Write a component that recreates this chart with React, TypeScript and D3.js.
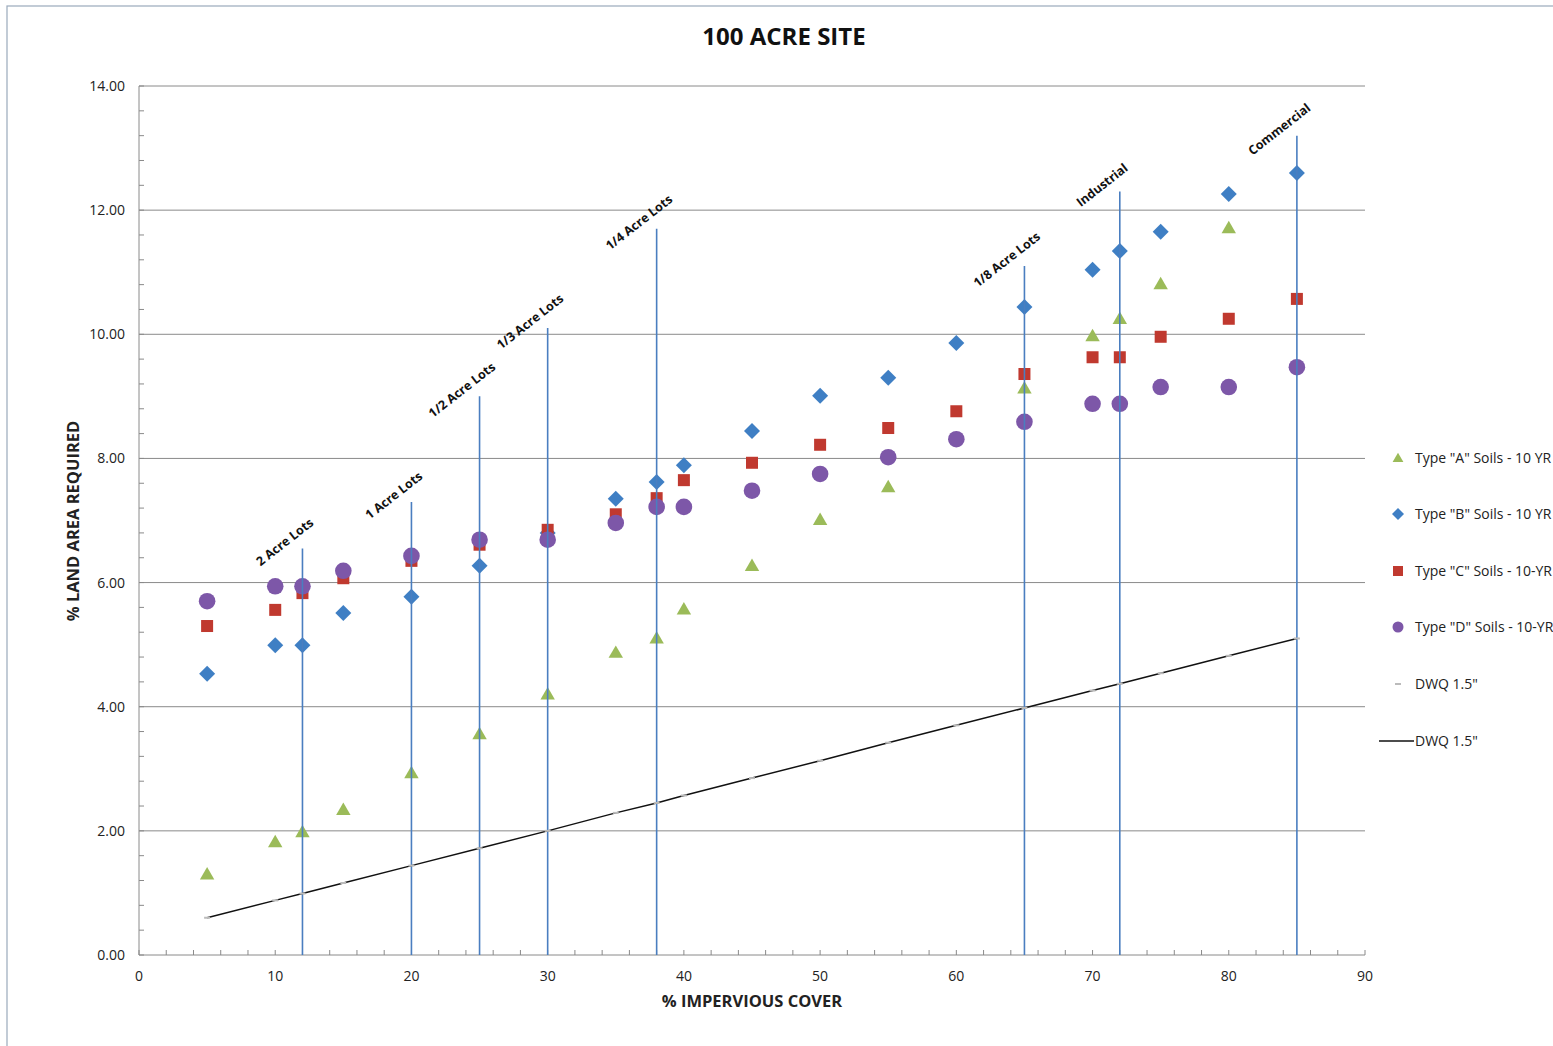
import React from "react";
import * as d3 from "d3";

const xValues = [5, 10, 12, 15, 20, 25, 30, 35, 38, 40, 45, 50, 55, 60, 65, 70, 72, 75, 80, 85];
const typeA: (number | null)[] = [1.30, 1.82, 1.98, 2.34, 2.93, 3.56, 4.20, 4.87, 5.10, 5.57, 6.27, 7.01, 7.54, null, 9.13, 9.97, 10.25, 10.81, 11.71, null];
const typeB = [4.53, 4.99, 4.99, 5.51, 5.77, 6.27, 6.80, 7.35, 7.62, 7.89, 8.44, 9.01, 9.30, 9.86, 10.44, 11.04, 11.34, 11.65, 12.26, 12.60];
const typeC = [5.30, 5.56, 5.83, 6.07, 6.35, 6.61, 6.85, 7.10, 7.36, 7.65, 7.93, 8.22, 8.49, 8.76, 9.36, 9.63, 9.63, 9.96, 10.25, 10.57];
const typeD = [5.70, 5.94, 5.94, 6.19, 6.43, 6.69, 6.69, 6.96, 7.22, 7.22, 7.48, 7.75, 8.02, 8.31, 8.59, 8.88, 8.88, 9.15, 9.15, 9.47];
const dwq = [0.60, 0.88, 0.99, 1.16, 1.44, 1.72, 2.00, 2.29, 2.45, 2.57, 2.85, 3.13, 3.42, 3.70, 3.98, 4.26, 4.37, 4.54, 4.82, 5.10];

const lotLabels = ["2 Acre Lots", "1 Acre Lots", "1/2 Acre Lots", "1/3 Acre Lots", "1/4 Acre Lots", "1/8 Acre Lots", "Industrial", "Commercial"];
const lotX = [12, 20, 25, 30, 38, 65, 72, 85];
const lotTop = [6.55, 7.3, 9.0, 10.1, 11.7, 11.1, 12.3, 13.2];

const yTicks = [0, 2, 4, 6, 8, 10, 12, 14];
const xTicks = [0, 10, 20, 30, 40, 50, 60, 70, 80, 90];

const legendLabels = ['Type "A" Soils - 10 YR', 'Type "B" Soils - 10 YR', 'Type "C" Soils - 10-YR', 'Type "D" Soils - 10-YR', 'DWQ 1.5"', 'DWQ 1.5"'];

const W = 1553, H = 1046;
const FONT = "'Open Sans', 'Liberation Sans', sans-serif";
const cA = "#9bbb59", cB = "#3f7fc4", cC = "#c0392f", cD = "#7d57a8", cV = "#4a7ec0";

export default function App() {
  const x = d3.scaleLinear().domain([0, 90]).range([139, 1365]);
  const y = d3.scaleLinear().domain([0, 14]).range([955, 86]);
  const minorX = d3.range(0, 91, 2);
  const minorY = d3.range(0, 14.001, 0.4);
  const line = d3.line<number>().x((_, i) => x(xValues[i])).y((v) => y(v));

  const tri = d3.symbol().type(d3.symbolTriangle).size(90)();
  const dia = (cx: number, cy: number) => `M${cx},${cy - 8}L${cx + 8},${cy}L${cx},${cy + 8}L${cx - 8},${cy}Z`;

  const legendY = [458, 514, 571, 627, 684, 741];

  return (
    <svg width={W} height={H} style={{ position: "absolute", left: 0, top: 0, background: "#fff" }} fontFamily={FONT}>
      <rect x={7} y={6} width={W} height={H + 10} fill="#fff" stroke="#9aaabb" strokeWidth={1.2} />
      <text x={784} y={45} textAnchor="middle" fontSize={24} fontWeight="bold" fill="#111">100 ACRE SITE</text>

      {yTicks.map((t) => (
        <line key={"g" + t} x1={x(0)} x2={x(90)} y1={y(t)} y2={y(t)} stroke="#8a8a8a" strokeWidth={1} />
      ))}
      <line x1={x(0)} x2={x(0)} y1={y(0)} y2={y(14)} stroke="#8a8a8a" strokeWidth={1} />
      {minorY.map((t, i) => (
        <line key={"my" + i} x1={x(0)} x2={x(0) + 5} y1={y(t)} y2={y(t)} stroke="#8a8a8a" />
      ))}
      {minorX.map((t, i) => (
        <line key={"mx" + i} x1={x(t)} x2={x(t)} y1={y(0)} y2={y(0) - 5} stroke="#8a8a8a" />
      ))}
      {yTicks.map((t) => (
        <text key={"yl" + t} x={125} y={y(t) + 5} textAnchor="end" fontSize={14} fill="#222">{t.toFixed(2)}</text>
      ))}
      {xTicks.map((t) => (
        <text key={"xl" + t} x={x(t)} y={981} textAnchor="middle" fontSize={14} fill="#222">{t}</text>
      ))}
      <text x={752} y={1007} textAnchor="middle" fontSize={16.5} fontWeight="bold" fill="#222">% IMPERVIOUS COVER</text>
      <text transform={`translate(79,521) rotate(-90)`} textAnchor="middle" fontSize={16.5} fontWeight="bold" fill="#222">% LAND AREA REQUIRED</text>

      {typeA.map((v, i) => v == null ? null : (
        <path key={"a" + i} d={tri!} transform={`translate(${x(xValues[i])},${y(v) + 1})`} fill={cA} />
      ))}
      {typeB.map((v, i) => (
        <path key={"b" + i} d={dia(x(xValues[i]), y(v))} fill={cB} />
      ))}
      {typeC.map((v, i) => (
        <rect key={"c" + i} x={x(xValues[i]) - 6} y={y(v) - 6} width={12} height={12} fill={cC} />
      ))}
      {typeD.map((v, i) => (
        <circle key={"d" + i} cx={x(xValues[i])} cy={y(v)} r={8.3} fill={cD} />
      ))}

      {lotX.map((lx, i) => (
        <line key={"v" + i} x1={x(lx)} x2={x(lx)} y1={y(0)} y2={y(lotTop[i])} stroke={cV} strokeWidth={1.6} />
      ))}
      {lotX.map((lx, i) => (
        <text key={"vl" + i} transform={`translate(${x(lx) - 15},${y(lotTop[i]) - 3}) rotate(-38)`} textAnchor="middle" fontSize={12.5} fontWeight="bold" fill="#111">{lotLabels[i]}</text>
      ))}

      <path d={line(dwq)!} fill="none" stroke="#111" strokeWidth={1.5} />
      {dwq.map((v, i) => (
        <line key={"w" + i} x1={x(xValues[i]) - 3} x2={x(xValues[i]) + 3} y1={y(v)} y2={y(v)} stroke="#bbb" strokeWidth={2} />
      ))}

      {/* legend */}
      <path d={tri!} transform={`translate(1398,${legendY[0] + 1}) scale(0.75)`} fill={cA} />
      <path d={`M1398,${legendY[1] - 6}L1404,${legendY[1]}L1398,${legendY[1] + 6}L1392,${legendY[1]}Z`} fill={cB} />
      <rect x={1393} y={legendY[2] - 5} width={10} height={10} fill={cC} />
      <circle cx={1398} cy={legendY[3]} r={5.5} fill={cD} />
      <line x1={1395} x2={1401} y1={legendY[4]} y2={legendY[4]} stroke="#bbb" strokeWidth={2} />
      <line x1={1379} x2={1414} y1={legendY[5]} y2={legendY[5]} stroke="#111" strokeWidth={1.3} />
      {legendLabels.map((l, i) => (
        <text key={"lg" + i} x={1415} y={legendY[i] + 5} fontSize={14} fill="#222">{l}</text>
      ))}
    </svg>
  );
}
